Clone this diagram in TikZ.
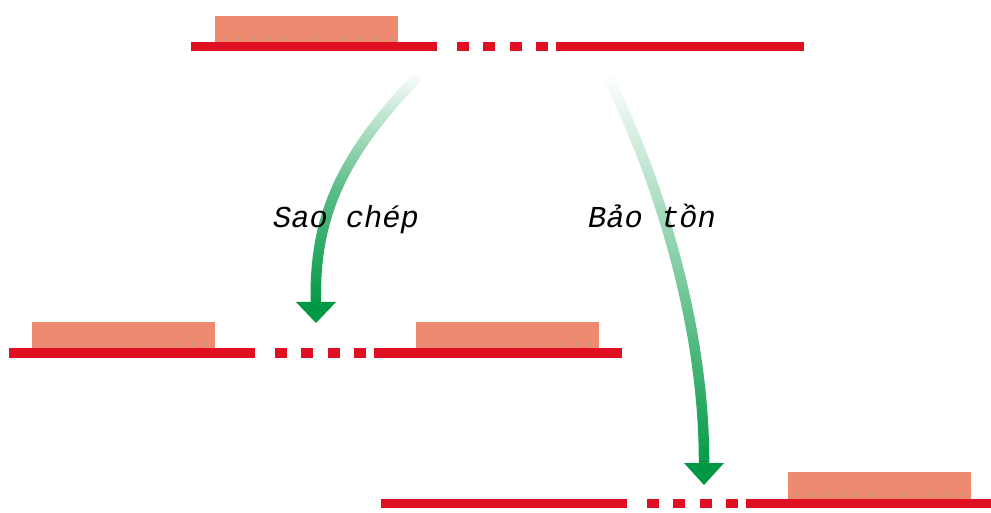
\documentclass[tikz,border=0pt]{standalone}
\usepackage{fontspec}
\usetikzlibrary{fadings}
\newfontfamily\labfont{Liberation Mono}
\definecolor{strandred}{RGB}{222,16,34}
\definecolor{boxsalmon}{RGB}{238,138,112}
\definecolor{arrgreen}{RGB}{0,152,68}
\tikzfading[name=arrfadeA, top color=transparent!100, bottom color=transparent!0, middle color=transparent!35]
\tikzfading[name=arrfadeB, top color=transparent!100, bottom color=transparent!0, middle color=transparent!50]
\tikzset{
  strandpart/.style={fill=strandred},
  primerbox/.style={fill=boxsalmon},
  boxdots/.style={gray!75, line width=1.6bp, dash pattern=on 1.6bp off 13.5bp},
  arrowline/.style={draw=arrgreen, line width=10.5bp},
  arrowtip/.style={fill=arrgreen},
  lab/.style={font=\labfont\itshape\fontsize{30.5}{36}\selectfont, inner sep=0pt, anchor=base}
}
\newcommand\dnastrand[2]{%
  \fill[strandpart] ({#1},{#2-4.5}) rectangle ({#1+246},{#2+4.5});
  \foreach \k in {0,1,2,3}{\fill[strandpart] ({#1+266+26.3*\k},{#2-4.5}) rectangle ({#1+278+26.3*\k},{#2+4.5});}
  \fill[strandpart] ({#1+365},{#2-4.5}) rectangle ({#1+613},{#2+4.5});
}
\newcommand\primer[2]{%
  \fill[primerbox] ({#1},{#2-31}) rectangle ({#1+183},{#2-4.5});
  \draw[boxdots] ({#1+8},{#2-9}) -- ({#1+178},{#2-9});
}
\begin{document}
\begin{tikzpicture}[x=1bp,y=-1bp]
\useasboundingbox (0,0) rectangle (991,513);
% strands
\dnastrand{191}{47}
\primer{215}{47}
\dnastrand{9}{353}
\primer{32}{353}
\primer{416}{353}
\dnastrand{381}{503}
\primer{788}{503}
% arrow end points
\coordinate (a1s) at (418,76);
\coordinate (a1e) at (316,304);
\coordinate (a2s) at (608,78);
\coordinate (a2e) at (704,465);
% arrows
\draw[arrowline, path fading=arrfadeA] (a1s) .. controls (348,150) and (313,210) .. (a1e);
\fill[arrowtip] (296,302) -- (336,302) -- (316,323) -- cycle;
\draw[arrowline, path fading=arrfadeB] (a2s) .. controls (640,140) and (705,300) .. (a2e);
\fill[arrowtip] (684,463) -- (724,463) -- (704,485) -- cycle;
% labels
\node[lab] (l1) at (346,228) {Sao chép};
\node[lab] (l2) at (652,228) {Bảo tồn};
\end{tikzpicture}
\end{document}
